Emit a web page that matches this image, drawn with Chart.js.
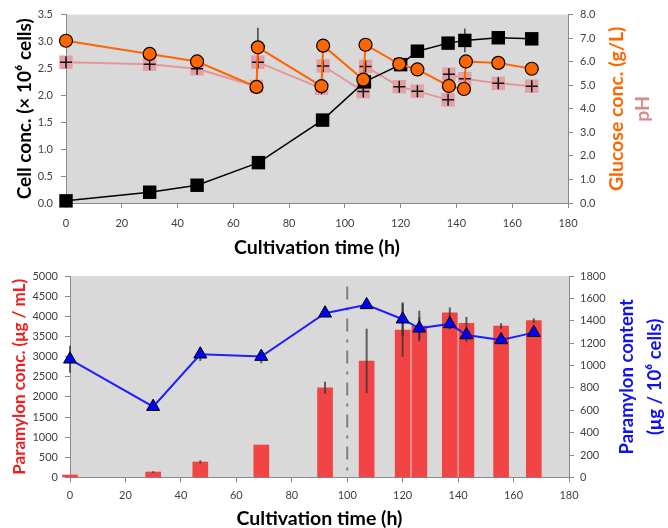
<!DOCTYPE html>
<html><head><meta charset="utf-8">
<script src="https://cdn.jsdelivr.net/npm/chart.js@4/dist/chart.umd.min.js"></script>
<style>
html,body{margin:0;padding:0;background:#fff;width:668px;height:528px;overflow:hidden;}
#top{position:absolute;left:0;top:0;width:668px;height:262px;}
#bot{position:absolute;left:0;top:262px;width:668px;height:266px;}
</style></head><body>
<div id="top"><canvas id="c1"></canvas></div>
<div id="bot"><canvas id="c2"></canvas></div>
<script>
// ---------- data: top panel ----------
const cellTime = [0, 30, 47, 69, 92, 107, 120, 126, 137, 143, 155, 167];
const cellConc = [0.04, 0.20, 0.33, 0.75, 1.54, 2.25, 2.57, 2.82, 2.97, 3.02, 3.07, 3.05];
const cellErr  = [0, 0, 0, 0, 0, 0, 0, 0, 0, 0.22, 0, 0];

const glucoseTime = [0, 30, 47, 68.3, 68.8, 91.6, 92.2, 106.6, 107.4, 119.5, 126, 137.3, 142.7, 143.4, 155, 167];
const glucose     = [6.89, 6.33, 6.01, 4.93, 6.61, 4.96, 6.68, 5.24, 6.72, 5.90, 5.67, 4.97, 4.84, 6.01, 5.95, 5.70];
const glucoseErr  = [0, 0, 0, 0, 0.83, 0, 0, 0, 0, 0, 0, 0, 0, 0, 0, 0];

const phTime = [0, 30, 47, 68.3, 68.8, 91.6, 92.2, 106.6, 107.4, 119.5, 126, 137, 137.3, 143, 155, 167];
const ph     = [5.98, 5.89, 5.70, 4.95, 5.98, 4.87, 5.82, 4.73, 5.80, 4.94, 4.75, 4.38, 5.47, 5.28, 5.08, 4.96];

// ---------- data: bottom panel ----------
const sampleTime     = [0, 30, 47, 69, 92, 107, 120, 126, 137, 143, 155.5, 167.3];
const paramylonConc  = [62, 136, 385, 806, 2228, 2891, 3660, 3759, 4089, 3826, 3759, 3891];
const paramylonConcErr = [0, 20, 40, 0, 150, 800, 660, 380, 130, 160, 70, 60];
const paramylonContent = [1056, 633, 1101, 1080, 1467, 1542, 1414, 1333, 1372, 1273, 1229, 1294];
const paramylonContentErr = [120, 0, 60, 60, 0, 0, 150, 100, 50, 60, 0, 0];

const timeTicks = {min: 0, max: 180, step: 20};
const feedMarkTime = 100;

// ---------- text ----------
const xTitle = 'Cultivation time (h)';
const cellTitle = 'Cell conc. (\u00d7 10\u2076 cells)';
const glucoseTitle = 'Glucose conc. (g/L)';
const phTitle = 'pH';
const pConcTitle = 'Paramylon conc. (\u03bcg / mL)';
const pContentTitle = ['Paramylon content', '(\u03bcg / 10\u2076 cells)'];

Chart.defaults.font.family = 'Lato, "Open Sans", sans-serif';
Chart.defaults.color = '#404040';

const AXIS = '#8a8a8a';
const tFont = s => ({size: s, weight: 'bold', lineHeight: 1});
const TICK_FONT = {size: 11};

const pts = (xs, ys) => xs.map((x, i) => ({x: x, y: ys[i]}));

function vText(ctx, text, x, y, color, size) {
  ctx.save();
  ctx.translate(x, y);
  ctx.rotate(-Math.PI / 2);
  ctx.font = 'bold ' + size + 'px Lato, "Open Sans", sans-serif';
  ctx.fillStyle = color;
  ctx.textAlign = 'center';
  ctx.textBaseline = 'middle';
  ctx.fillText(text, 0, 0);
  ctx.restore();
}

function drawErrors(chart, idx, color, width) {
  const ds = chart.data.datasets[idx];
  if (!ds.errors) return;
  const xs = chart.scales.x, ys = chart.scales[ds.yAxisID], ctx = chart.ctx;
  ctx.save();
  ctx.strokeStyle = color;
  ctx.lineWidth = width;
  ds.data.forEach((p, i) => {
    const e = ds.errors[i];
    if (!e) return;
    const x = xs.getPixelForValue(p.x);
    ctx.beginPath();
    ctx.moveTo(x, ys.getPixelForValue(p.y - e));
    ctx.lineTo(x, ys.getPixelForValue(p.y + e));
    ctx.stroke();
  });
  ctx.restore();
}

const bgPlugin = {
  id: 'plotBg',
  beforeDraw(chart) {
    const {ctx, chartArea: a} = chart;
    ctx.save();
    ctx.fillStyle = '#D9D9D9';
    ctx.fillRect(a.left, a.top, a.right - a.left, a.bottom - a.top);
    ctx.restore();
  }
};

function xAxis(h, tb, pad, fs) {
  return {
    type: 'linear', position: 'bottom', min: timeTicks.min, max: timeTicks.max, offset: false,
    ticks: {stepSize: timeTicks.step, font: TICK_FONT, padding: pad, autoSkip: false, maxRotation: 0},
    grid: {drawOnChartArea: false, drawTicks: true, tickLength: 5, color: AXIS, offset: false},
    border: {display: true, color: AXIS},
    title: {display: true, text: xTitle, color: '#000', font: tFont(fs), padding: {top: 0, bottom: tb}},
    afterFit(s) { s.height = h; }
  };
}

// ---------- top chart ----------
new Chart(document.getElementById('c1'), {
  type: 'line',
  data: {
    datasets: [
      {label: 'Glucose', data: pts(glucoseTime, glucose), errors: glucoseErr, yAxisID: 'yR', order: 0,
       borderColor: '#FF6600', borderWidth: 2, pointRadius: 6.5, pointBackgroundColor: '#FF6600',
       pointBorderColor: '#000', pointBorderWidth: 1.2, clip: false},
      {label: 'Cell', data: pts(cellTime, cellConc), errors: cellErr, yAxisID: 'yL', order: 1,
       borderColor: '#000', borderWidth: 1.5, pointStyle: 'rect', pointRadius: 9.5,
       pointBackgroundColor: '#000', pointBorderColor: '#000', pointBorderWidth: 0, clip: false},
      {label: 'pH marks', data: pts(phTime, ph), yAxisID: 'yR', order: 2, showLine: false,
       pointStyle: 'cross', pointRadius: 6, pointBorderColor: '#111', pointBorderWidth: 1.5, clip: false},
      {label: 'pH', data: pts(phTime, ph), yAxisID: 'yR', order: 3,
       borderColor: 'rgb(230,150,155)', borderWidth: 2, pointStyle: 'rect', pointRadius: 9.5,
       pointBackgroundColor: 'rgba(228,158,163,0.95)', pointBorderWidth: 0, clip: false}
    ]
  },
  options: {
    responsive: true, maintainAspectRatio: false, animation: false,
    layout: {padding: {top: 12, left: 0, right: 0, bottom: 0}},
    plugins: {legend: {display: false}, tooltip: {enabled: false}},
    scales: {
      x: xAxis(59, 4.5, 9, 19.5),
      yL: {
        type: 'linear', position: 'left', min: 0, max: 3.5,
        ticks: {stepSize: 0.5, font: TICK_FONT, padding: 8, callback: v => v.toFixed(1)},
        grid: {drawOnChartArea: false, tickLength: 5, color: AXIS},
        border: {display: true, color: AXIS},
        title: {display: true, text: cellTitle, color: '#000', font: tFont(19), padding: {top: 15, bottom: 0}},
        afterFit(s) { s.width = 66; }
      },
      yR: {
        type: 'linear', position: 'right', min: 0, max: 8,
        ticks: {stepSize: 1, font: TICK_FONT, padding: 7, callback: v => v.toFixed(1)},
        grid: {drawOnChartArea: false, tickLength: 5, color: AXIS},
        border: {display: true, color: AXIS},
        afterFit(s) { s.width = 100; }
      }
    }
  },
  plugins: [bgPlugin, {
    id: 'extras1',
    beforeDatasetsDraw(chart) {
      chart.data.datasets.forEach((d, i) => drawErrors(chart, i, 'rgba(40,40,40,0.85)', 1.5));
    },
    afterDraw(chart) {
      const a = chart.chartArea, cy = (a.top + a.bottom) / 2;
      vText(chart.ctx, glucoseTitle, a.right + 49, cy, '#FF6600', 19.5);
      vText(chart.ctx, phTitle, a.right + 75, cy, '#D98A8E', 19.5);
    }
  }]
});

// ---------- bottom chart ----------
new Chart(document.getElementById('c2'), {
  type: 'line',
  data: {
    datasets: [
      {type: 'line', label: 'Paramylon content', data: pts(sampleTime, paramylonContent), errors: paramylonContentErr,
       yAxisID: 'yR', order: 0, borderColor: '#1E1EFF', borderWidth: 2, pointStyle: 'triangle',
       pointRadius: 7.5, pointBackgroundColor: '#0000FF', pointBorderColor: '#000', pointBorderWidth: 1, clip: false},
      {type: 'bar', label: 'Paramylon conc.', data: pts(sampleTime, paramylonConc), errors: paramylonConcErr,
       yAxisID: 'yL', order: 1, backgroundColor: '#F24444', barThickness: 15, borderWidth: 0, clip: false}
    ]
  },
  options: {
    responsive: true, maintainAspectRatio: false, animation: false,
    layout: {padding: {top: 14, left: 0, right: 0, bottom: 0}},
    plugins: {legend: {display: false}, tooltip: {enabled: false}},
    scales: {
      x: xAxis(50.5, 0, 6, 19.5),
      yL: {
        type: 'linear', position: 'left', min: 0, max: 5000,
        ticks: {stepSize: 500, font: TICK_FONT, padding: 7, callback: v => String(v)},
        grid: {drawOnChartArea: false, tickLength: 5, color: AXIS},
        border: {display: true, color: AXIS},
        title: {display: true, text: pConcTitle, color: '#F01E1E', font: tFont(17), padding: {top: 11, bottom: 0}},
        afterFit(s) { s.width = 70; }
      },
      yR: {
        type: 'linear', position: 'right', min: 0, max: 1800,
        ticks: {stepSize: 200, font: TICK_FONT, padding: 6, callback: v => String(v)},
        grid: {drawOnChartArea: false, tickLength: 5, color: AXIS},
        border: {display: true, color: AXIS},
        afterFit(s) { s.width = 99; }
      }
    }
  },
  plugins: [bgPlugin, {
    id: 'extras2',
    beforeDatasetsDraw(chart) {
      const ctx = chart.ctx, x = chart.scales.x.getPixelForValue(feedMarkTime), yl = chart.scales.yL;
      ctx.save();
      ctx.strokeStyle = '#808080';
      ctx.lineWidth = 2;
      ctx.setLineDash([13, 8, 3, 8]);
      ctx.beginPath();
      ctx.moveTo(x, yl.getPixelForValue(4740));
      ctx.lineTo(x, yl.getPixelForValue(160));
      ctx.stroke();
      ctx.restore();
    },
    afterDatasetDraw(chart, args) {
      if (args.index === 1) {
        drawErrors(chart, 1, 'rgba(50,50,50,0.75)', 2);
        drawErrors(chart, 0, 'rgba(50,50,50,0.75)', 2);
      }
    },
    afterDraw(chart) {
      const a = chart.chartArea, cy = (a.top + a.bottom) / 2;
      vText(chart.ctx, pContentTitle[0], a.right + 58, cy, '#1010F0', 18.5);
      vText(chart.ctx, pContentTitle[1], a.right + 86, cy, '#1010F0', 18.5);
    }
  }]
});
</script>
</body></html>
